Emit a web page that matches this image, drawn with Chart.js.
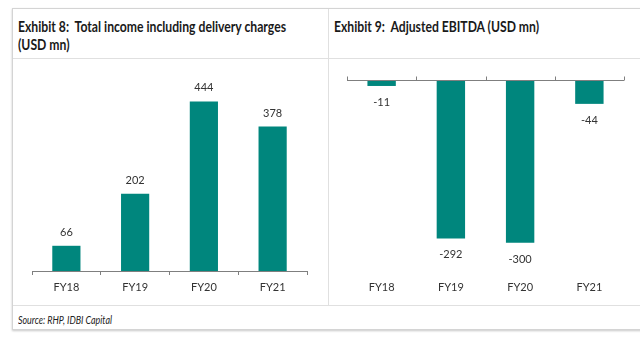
<!DOCTYPE html>
<html><head><meta charset="utf-8">
<script src="https://cdn.jsdelivr.net/npm/chart.js@4.4.1/dist/chart.umd.min.js"></script>
<style>
html,body{margin:0;padding:0;background:#fff;width:640px;height:360px;overflow:hidden;}
#frame{position:absolute;left:12px;top:8px;width:640px;height:320px;border:1px solid #d4d4d4;box-shadow:0 1px 2px rgba(0,0,0,0.22);}
.hline{position:absolute;height:1px;background:#e0e0e0;}
.vline{position:absolute;width:1px;background:#e0e0e0;}
.fit{position:absolute;white-space:nowrap;transform-origin:0 0;font-family:Lato,"Liberation Sans",sans-serif;}
.title{font-weight:bold;font-size:15px;line-height:18px;color:#1a1a1a;}
.source{font-style:italic;font-size:11px;line-height:13px;color:#222;}
canvas{position:absolute;}
</style></head>
<body>
<div id="frame"></div>
<div class="hline" style="left:13px;top:58px;width:627px;"></div>
<div class="hline" style="left:13px;top:305px;width:627px;"></div>
<div class="vline" style="left:328px;top:9px;height:296px;"></div>
<div class="fit title" data-w="268" style="left:18px;top:17px;"><span>Exhibit 8:&nbsp; Total income including delivery charges</span><br><span>(USD mn)</span></div>
<div class="fit title" data-w="205" style="left:334px;top:17px;"><span>Exhibit 9:&nbsp; Adjusted EBITDA (USD mn)</span></div>
<div class="fit source" data-w="94" style="left:18px;top:313px;"><span>Source: RHP, IDBI Capital</span></div>
<canvas id="c1" width="315" height="247" style="left:13px;top:58px;"></canvas>
<canvas id="c2" width="311" height="247" style="left:329px;top:58px;"></canvas>
<script>
const categories = ['FY18', 'FY19', 'FY20', 'FY21'];
const totalIncome = [66, 202, 444, 378];
const adjustedEbitda = [-11, -292, -300, -44];

// horizontally condense the HTML titles to the reference's narrow lettering
document.querySelectorAll('.fit').forEach(el => {
  const w = el.querySelector('span').getBoundingClientRect().width;
  el.style.transform = 'scaleX(' + (parseFloat(el.dataset.w) / w) + ')';
});

const FONT = 'Lato, "Liberation Sans", sans-serif';
const TEAL = '#00867D';
Chart.defaults.font.family = FONT;
Chart.defaults.color = '#333';

const valueLabels = {
  id: 'valueLabels',
  afterDatasetsDraw(chart) {
    const ctx = chart.ctx;
    chart.data.datasets.forEach((ds, di) => {
      const meta = chart.getDatasetMeta(di);
      meta.data.forEach((bar, i) => {
        const v = ds.data[i];
        ctx.save();
        ctx.font = '11px ' + FONT;
        ctx.fillStyle = '#333';
        ctx.textAlign = 'center';
        ctx.textBaseline = 'middle';
        const y = v >= 0 ? bar.y - 13.5 : bar.y + 16.5;
        ctx.fillText(String(v), bar.x, y);
        ctx.restore();
      });
    });
  }
};

const zeroAxis = {
  id: 'zeroAxis',
  afterDatasetsDraw(chart) {
    const xs = chart.scales.x, ys = chart.scales.y, ctx = chart.ctx;
    const y0 = Math.round(ys.getPixelForValue(0)) + 0.5;
    const n = chart.data.labels.length, step = (xs.right - xs.left) / n;
    ctx.save();
    ctx.strokeStyle = '#7f7f7f';
    ctx.lineWidth = 1;
    ctx.beginPath();
    ctx.moveTo(xs.left, y0); ctx.lineTo(xs.right, y0);
    for (let i = 0; i <= n; i++) {
      const x = Math.round(xs.left + i * step) + 0.5;
      ctx.moveTo(x, y0); ctx.lineTo(x, y0 - 4);
    }
    ctx.stroke();
    ctx.restore();
  }
};

function makeChart(id, values, yMin, yMax, pad, showBaseAxis, extraPlugins) {
  const axisColor = showBaseAxis ? '#7f7f7f' : 'rgba(0,0,0,0)';
  return new Chart(document.getElementById(id), {
    type: 'bar',
    data: {
      labels: categories,
      datasets: [{ data: values, backgroundColor: TEAL, borderWidth: 0,
                   categoryPercentage: 1, barPercentage: 0.41 }]
    },
    options: {
      responsive: false,
      animation: false,
      layout: { padding: pad },
      plugins: { legend: { display: false }, tooltip: { enabled: false } },
      scales: {
        x: {
          afterFit: s => { s.height = 23; },
          border: { display: showBaseAxis, color: axisColor, width: 1 },
          grid: { display: true, drawOnChartArea: false, offset: true, tickLength: 4, color: axisColor },
          ticks: { padding: 6, font: { size: 11 }, color: '#333' }
        },
        y: { display: false, min: yMin, max: yMax }
      }
    },
    plugins: [valueLabels].concat(extraPlugins)
  });
}

makeChart('c1', totalIncome, 0, 500, { left: 19, right: 21, top: 22, bottom: 11 }, true, []);
makeChart('c2', adjustedEbitda, -352, 0, { left: 18, right: 16, top: 22, bottom: 11 }, false, [zeroAxis]);
</script>
</body></html>
